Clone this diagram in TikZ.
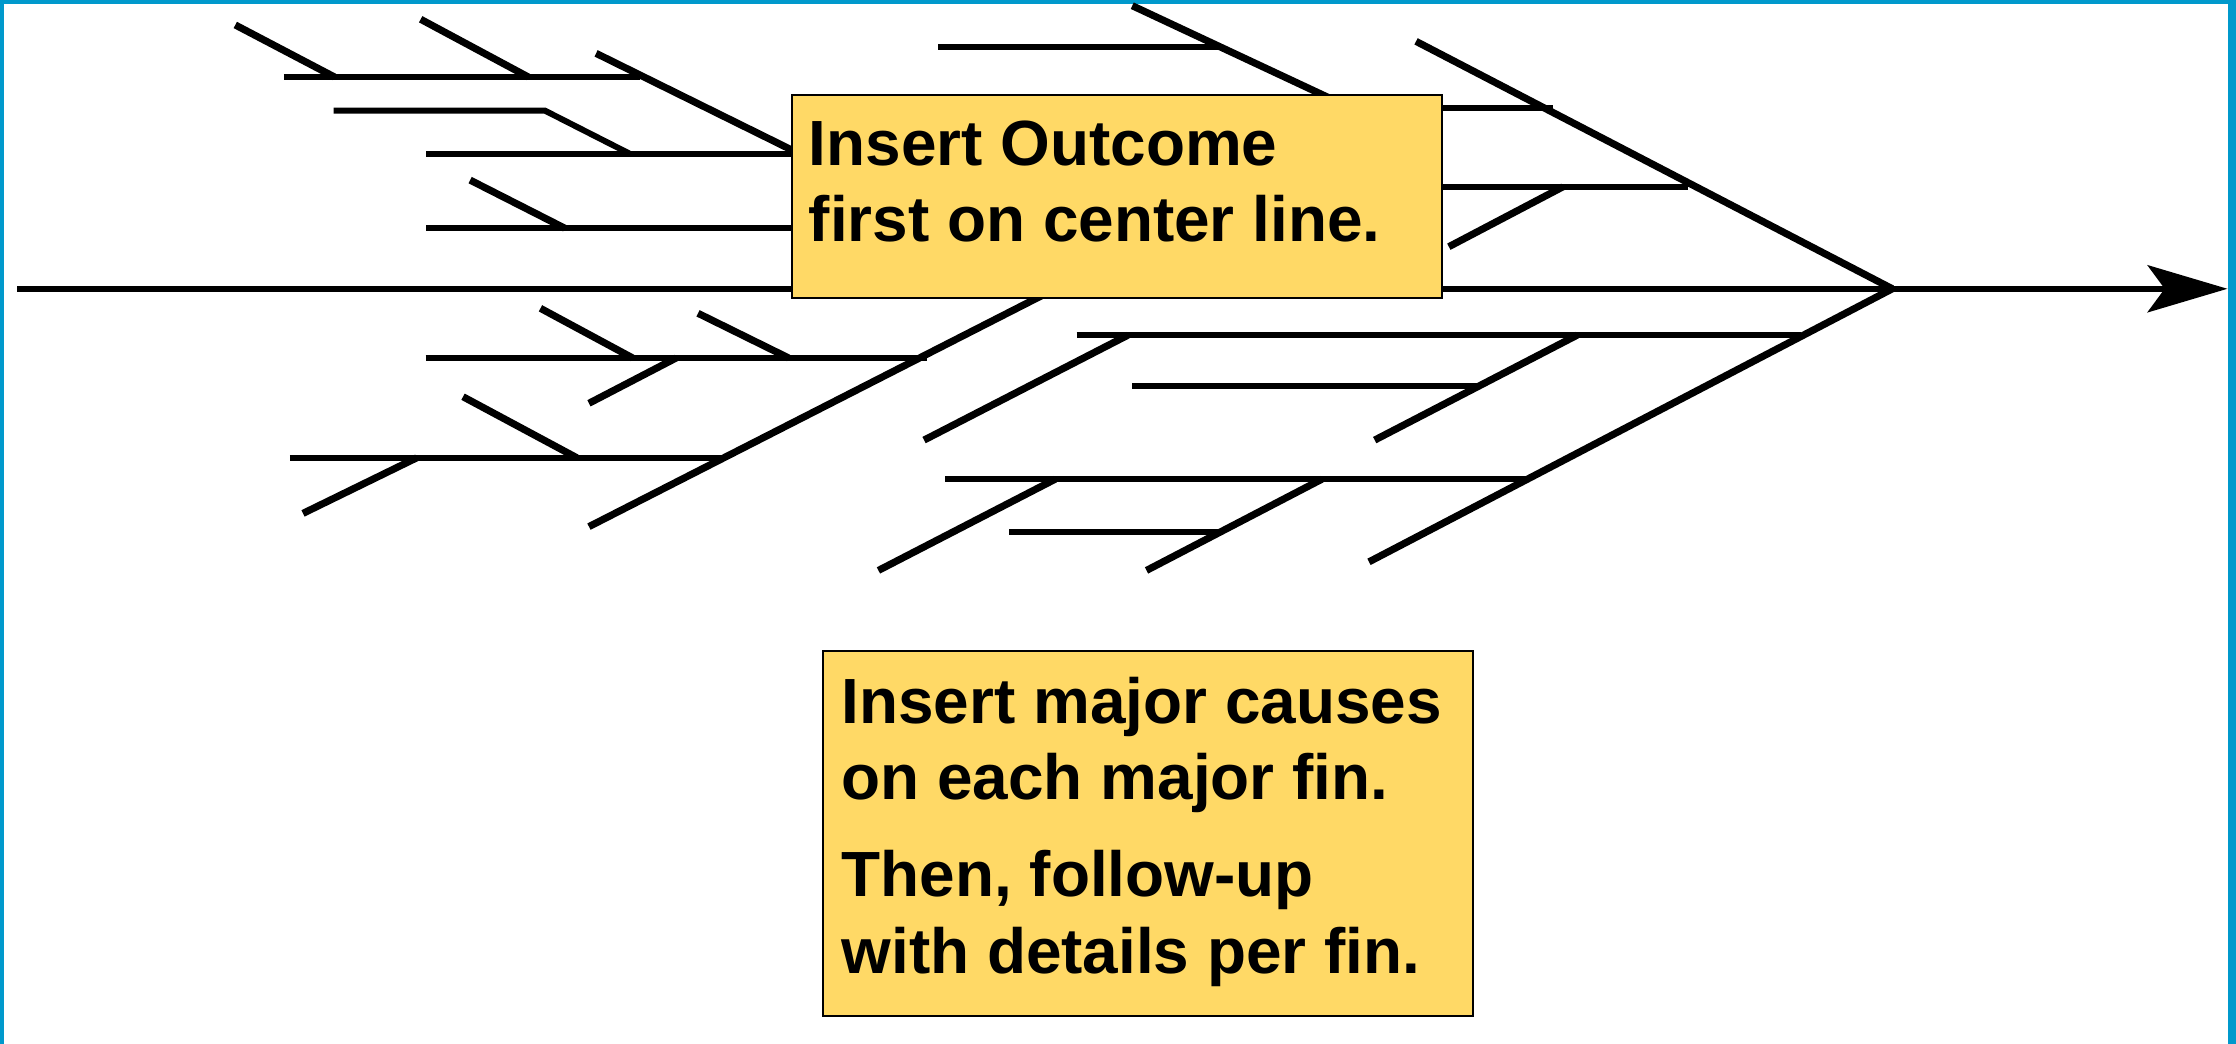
\documentclass[tikz,border=0pt]{standalone}
\usepackage{fontspec}
\newfontfamily\boxfont{Liberation Sans}
\usetikzlibrary{arrows.meta}
\definecolor{frameblue}{RGB}{0,153,204}
\definecolor{noteyellow}{RGB}{255,217,102}
\begin{document}
\begin{tikzpicture}[x=1pt,y=-1pt,
  hbone/.style={line width=4.2pt, black},
  dbone/.style={line width=5pt, black},
  notebox/.style={draw=black, line width=1.4pt, fill=noteyellow, inner sep=0pt, anchor=north west},
  notetext/.style={inner sep=0pt, anchor=base west, font=\boxfont\bfseries\fontsize{44.8}{54}\selectfont}]
\useasboundingbox (0,0) rectangle (1568,732);
% frame
\fill[frameblue] (0,0) rectangle (2.8,732);
\fill[frameblue] (0,0) rectangle (1568,2.8);
\fill[frameblue] (1562.4,0) rectangle (1568,732);
% spine
\coordinate (tail) at (12,202.5);
\coordinate (head) at (1327,202.5);
\coordinate (tip) at (1562,202.5);
\draw[hbone, -{Stealth[length=56pt,width=33pt,inset=12pt]}] (tail) -- (tip);
% upper head fin
\draw[dbone] (993,29) -- (head);
\draw[hbone] (1000,76) -- (1089,76);
\draw[hbone] (1000,131) -- (1184,131);
\draw[dbone] (1016,173) -- (1096,131);
% top middle fin
\draw[dbone] (794,4) -- (935,70);
\draw[hbone] (658,33) -- (856,33);
% top-left fin
\draw[dbone] (418,37.4) -- (565,110);
\draw[hbone] (199,54) -- (449,54);
\draw[dbone] (165,17.5) -- (234.6,54);
\draw[dbone] (295,13.5) -- (370.5,54);
\draw[hbone] (234,77.5) -- (382,77.5) -- (442,108);
\draw[hbone] (299,108) -- (565,108);
\draw[dbone] (329.7,126.3) -- (396,160);
\draw[hbone] (299,160) -- (565,160);
% lower head fin
\draw[dbone] (head) -- (960,394);
\draw[hbone] (755,235) -- (1263,235);
\draw[hbone] (663,336) -- (1070,336);
\draw[dbone] (648,308.6) -- (791,235);
\draw[hbone] (794,270.7) -- (1037,270.7);
\draw[dbone] (964,308.6) -- (1106,235);
\draw[dbone] (616,400) -- (740,336);
\draw[dbone] (804,400) -- (927,336);
\draw[hbone] (707.6,373.3) -- (857,373.3);
% long lower-left fin
\draw[dbone] (413,369.3) -- (737,204);
\draw[hbone] (298.5,251) -- (650,251);
\draw[dbone] (379,216.2) -- (443.6,251);
\draw[dbone] (413,282.8) -- (474.2,251);
\draw[dbone] (489.5,219.7) -- (553,251);
\draw[hbone] (203.3,321.4) -- (508,321.4);
\draw[dbone] (324.7,278.2) -- (404.5,321);
\draw[dbone] (212.5,360) -- (292.3,321);
% boxes
\node[notebox, minimum width=455.5pt, minimum height=142.5pt] (outcome) at (555,66) {};
\node[notebox, minimum width=456pt, minimum height=256pt] (causes) at (576.5,456) {};
% texts
\node[notetext] (o1) at (567,116) {Insert Outcome};
\node[notetext] (o2) at (567,169.5) {first on center line.};
\node[notetext] (c1) at (590,507) {Insert major causes};
\node[notetext] (c2) at (590,560.5) {on each major fin.};
\node[notetext] (c3) at (590,629) {Then, follow-up};
\node[notetext] (c4) at (590,683) {with details per fin.};
\end{tikzpicture}
\end{document}
